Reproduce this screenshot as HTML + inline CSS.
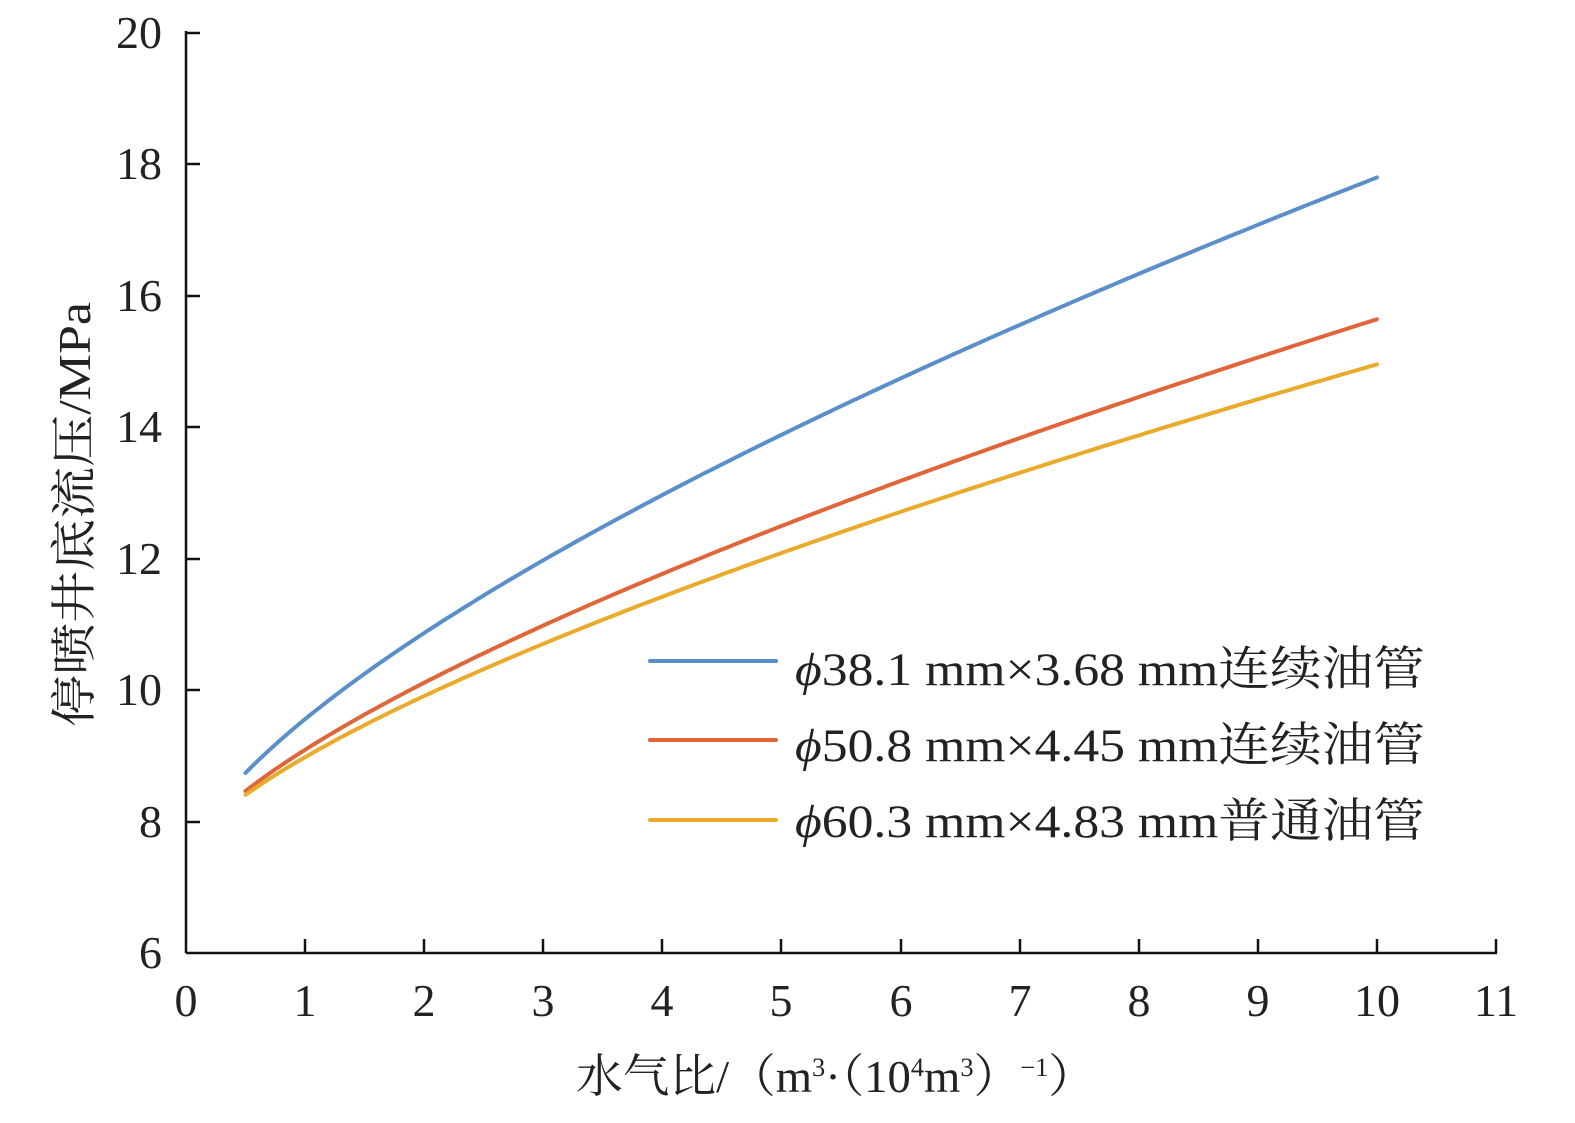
<!DOCTYPE html>
<html><head><meta charset="utf-8"><style>
html,body{margin:0;padding:0;background:#fff;}
svg text{font-family:"Liberation Serif","Noto Serif CJK SC",serif;fill:#222;}
</style></head><body>
<svg width="1575" height="1118" viewBox="0 0 1575 1118" xmlns="http://www.w3.org/2000/svg">
<g stroke="#111" stroke-width="2.5" fill="none">
<line x1="186" y1="31" x2="186" y2="953"/>
<line x1="186" y1="953" x2="1497" y2="953"/>
<line x1="186" y1="33" x2="200" y2="33"/>
<line x1="186" y1="164" x2="200" y2="164"/>
<line x1="186" y1="296" x2="200" y2="296"/>
<line x1="186" y1="427" x2="200" y2="427"/>
<line x1="186" y1="559" x2="200" y2="559"/>
<line x1="186" y1="690" x2="200" y2="690"/>
<line x1="186" y1="822" x2="200" y2="822"/>
<line x1="305" y1="953" x2="305" y2="939"/>
<line x1="424" y1="953" x2="424" y2="939"/>
<line x1="543" y1="953" x2="543" y2="939"/>
<line x1="662" y1="953" x2="662" y2="939"/>
<line x1="781" y1="953" x2="781" y2="939"/>
<line x1="901" y1="953" x2="901" y2="939"/>
<line x1="1020" y1="953" x2="1020" y2="939"/>
<line x1="1139" y1="953" x2="1139" y2="939"/>
<line x1="1258" y1="953" x2="1258" y2="939"/>
<line x1="1377" y1="953" x2="1377" y2="939"/>
<line x1="1496" y1="953" x2="1496" y2="939"/>
</g>
<g font-size="46" text-anchor="end">
<text x="162" y="48">20</text><text x="162" y="179">18</text><text x="162" y="311">16</text>
<text x="162" y="442">14</text><text x="162" y="574">12</text><text x="162" y="705">10</text>
<text x="162" y="837">8</text><text x="162" y="968">6</text>
</g>
<g font-size="46" text-anchor="middle">
<text x="186" y="1016">0</text><text x="305" y="1016">1</text><text x="424" y="1016">2</text>
<text x="543" y="1016">3</text><text x="662" y="1016">4</text><text x="781" y="1016">5</text>
<text x="901" y="1016">6</text><text x="1020" y="1016">7</text><text x="1139" y="1016">8</text>
<text x="1258" y="1016">9</text><text x="1377" y="1016">10</text><text x="1496" y="1016">11</text>
</g>
<text font-size="46" transform="translate(90,727) rotate(-90)" textLength="425" lengthAdjust="spacingAndGlyphs">停喷井底流压/MPa</text>
<text font-size="46" x="576" y="1092" textLength="519" lengthAdjust="spacingAndGlyphs">水气比/（m<tspan font-size="26" dy="-16">3</tspan><tspan dy="16">·（10</tspan><tspan font-size="26" dy="-16">4</tspan><tspan dy="16">m</tspan><tspan font-size="26" dy="-16">3</tspan><tspan dy="16">）</tspan><tspan font-size="26" dy="-16">−1</tspan><tspan dy="16">）</tspan></text>
<g fill="none" stroke-width="4" stroke-linecap="round" stroke-linejoin="round">
<path id="cb" stroke="#5b8fc9" d="M246,777 C265.7,760.3 285.3,745.6 305,730 C344.7,698.6 384.3,664 424,636 S503.3,585.5 543,562 S622.3,516.5 662,495 S741.2,453.2 781,433 S861.2,393.2 901,374 S980.3,335.7 1020,318 S1099.3,284.3 1139,268 S1218.3,235 1258,220 S1337.3,192 1377,178"/>
<path id="co" stroke="#e0663a" d="M246,791 C265.7,778.8 285.3,768.7 305,757 C344.7,733.4 384.3,706.7 424,685 S503.3,645.7 543,627 S622.3,590.3 662,573 S741.2,539.2 781,523 S861.2,491.2 901,476 S980.3,446 1020,432 S1099.3,404.8 1139,392 S1218.3,367.2 1258,355 S1337.3,331 1377,319"/>
<path id="cy" stroke="#eaaa2b" d="M246,795 C265.7,784 285.3,772.5 305,762 C344.7,740.8 384.3,719.5 424,700 S503.3,662.3 543,645 S622.3,611.8 662,596 S741.2,564.7 781,550 S861.2,521.7 901,508 S980.3,480.7 1020,468 S1099.3,443.7 1139,432 S1218.3,409.3 1258,398 S1337.3,375.3 1377,364"/>
<line stroke="#5b8fc9" x1="650" y1="661" x2="776" y2="661"/>
<line stroke="#e0663a" x1="650" y1="740" x2="776" y2="740"/>
<line stroke="#eaaa2b" x1="650" y1="820" x2="776" y2="820"/>
</g>
<g font-size="47">
<text x="795" y="685" textLength="630" lengthAdjust="spacingAndGlyphs"><tspan font-style="italic">ϕ</tspan>38.1 mm×3.68 mm连续油管</text>
<text x="795" y="761" textLength="630" lengthAdjust="spacingAndGlyphs"><tspan font-style="italic">ϕ</tspan>50.8 mm×4.45 mm连续油管</text>
<text x="795" y="837" textLength="630" lengthAdjust="spacingAndGlyphs"><tspan font-style="italic">ϕ</tspan>60.3 mm×4.83 mm普通油管</text>
</g>
</svg>
<script>
function mk(id,a,b,p){
  var d="";
  for(var i=0;i<=190;i++){
    var x=0.5+i*0.05;
    var v=a+b*Math.pow(x,p);
    var px=186+x*119.09, py=953-(v-6)*65.71;
    d+=(i?" L":"M")+px.toFixed(1)+","+py.toFixed(1);
  }
  document.getElementById(id).setAttribute("d",d);
}
mk("cb",7.382,2.177,0.68);
mk("co",7.46,1.633,0.7);
mk("cy",7.49,1.49,0.7);
</script>
</body></html>
